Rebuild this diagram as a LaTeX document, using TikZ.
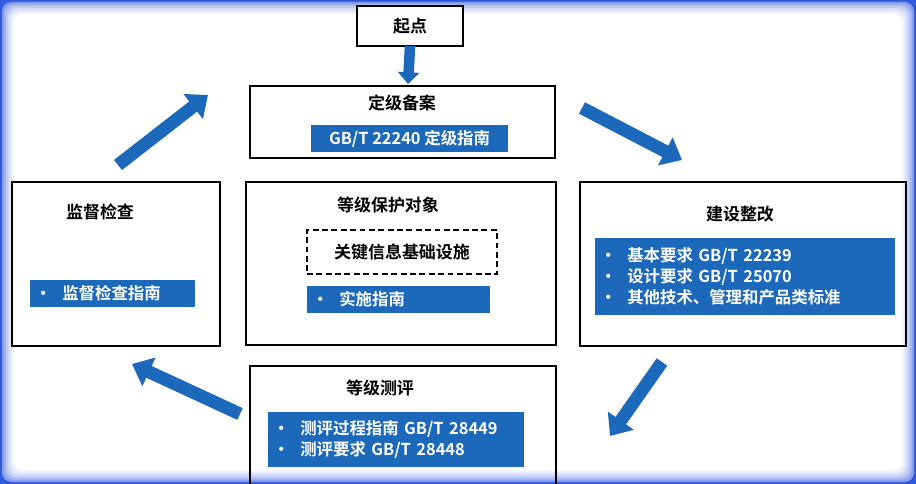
\documentclass[tikz,border=0pt]{standalone}
\usepackage{fontspec}
\setmainfont{Noto Sans CJK SC}[BoldFont={Noto Sans CJK SC Bold}]
\usetikzlibrary{arrows.meta}
\definecolor{bblue}{RGB}{28,104,186}
\definecolor{glow}{RGB}{50,90,225}
\newcommand{\bul}{\textbf{•}\ \ }
\begin{document}
\begin{tikzpicture}[x=0.03cm,y=-0.03cm,
  bar/.style={fill=bblue,text=white,font=\bfseries\fontsize{14}{18}\selectfont,inner sep=2pt},
  ttl/.style={font=\bfseries\fontsize{14.5}{17}\selectfont},
  barrow/.style={line width=11pt,draw=bblue,-{Triangle[length=16pt,width=26pt]}}]
\useasboundingbox (0,0) rectangle (916,484);
\fill[glow] (0,0) rectangle (916,484);
\foreach \i/\c in {2/60,4/45,6/32,8/22,10/13,12/6,14/0}{
  \fill[glow!\c!white,rounded corners=8] (\i,\i) rectangle (916-\i,484-\i);}
% boxes
\draw[line width=1.4pt,fill=white] (357,6) rectangle (463,46);
\node[ttl] (start) at (410,26) {起点};
\coordinate (sb) at (410,46);
\draw[line width=1.4pt] (250,86) rectangle (555,158);
\node[ttl] (dj) at (402,103) {定级备案};
\coordinate (djt) at (408,84);
\node[bar,minimum width=197*0.03cm,minimum height=27*0.03cm] (djbar) at (409.5,139) {GB/T 22240 定级指南};
\draw[line width=1.4pt] (12,182) rectangle (220,346);
\node[ttl] (jd) at (100,212) {监督检查};
\node[bar,minimum width=165*0.03cm,minimum height=27*0.03cm,text width=155*0.03cm,align=left] (jdbar) at (112.5,293.5) {\bul 监督检查指南};
\draw[line width=1.4pt] (246,182) rectangle (556,345);
\node[ttl] (dx) at (388,205) {等级保护对象};
\node[draw,dash pattern=on 5pt off 3pt,line width=1.6pt,minimum width=190*0.03cm,minimum height=44*0.03cm,ttl] (gj) at (402,252) {关键信息基础设施};
\node[bar,minimum width=183*0.03cm,minimum height=27*0.03cm,text width=173*0.03cm,align=left] (ss) at (398.5,299.5) {\bul 实施指南};
\draw[line width=1.4pt] (580,182) rectangle (906,346);
\node[ttl] (js) at (740,214) {建设整改};
\node[bar,minimum width=300*0.03cm,minimum height=77*0.03cm,text width=290*0.03cm,align=left] (jsbar) at (745,276.5)
 {\bul 基本要求 GB/T 22239\\ \bul 设计要求 GB/T 25070\\ \bul 其他技术、管理和产品类标准};
\draw[line width=1.4pt] (250,366) rectangle (556,490);
\node[ttl] (cp) at (380,388) {等级测评};
\node[bar,minimum width=256*0.03cm,minimum height=55*0.03cm,text width=246*0.03cm,align=left] (cpbar) at (396,439.5)
 {\bul 测评过程指南 GB/T 28449\\ \bul 测评要求 GB/T 28448};
% arrows
\coordinate (a1) at (118,165); \coordinate (a2) at (208,95);
\coordinate (b1) at (582,108); \coordinate (b2) at (682,160);
\coordinate (c1) at (662,362); \coordinate (c2) at (610,436);
\coordinate (d1) at (240,414); \coordinate (d2) at (132,364);
\draw[line width=9pt,draw=bblue,-{Triangle[length=10pt,width=18pt]}] (sb) -- (djt);
\foreach \s/\e in {a1/a2,b1/b2,c1/c2,d1/d2}{\draw[barrow] (\s) -- (\e);}
\end{tikzpicture}
\end{document}
